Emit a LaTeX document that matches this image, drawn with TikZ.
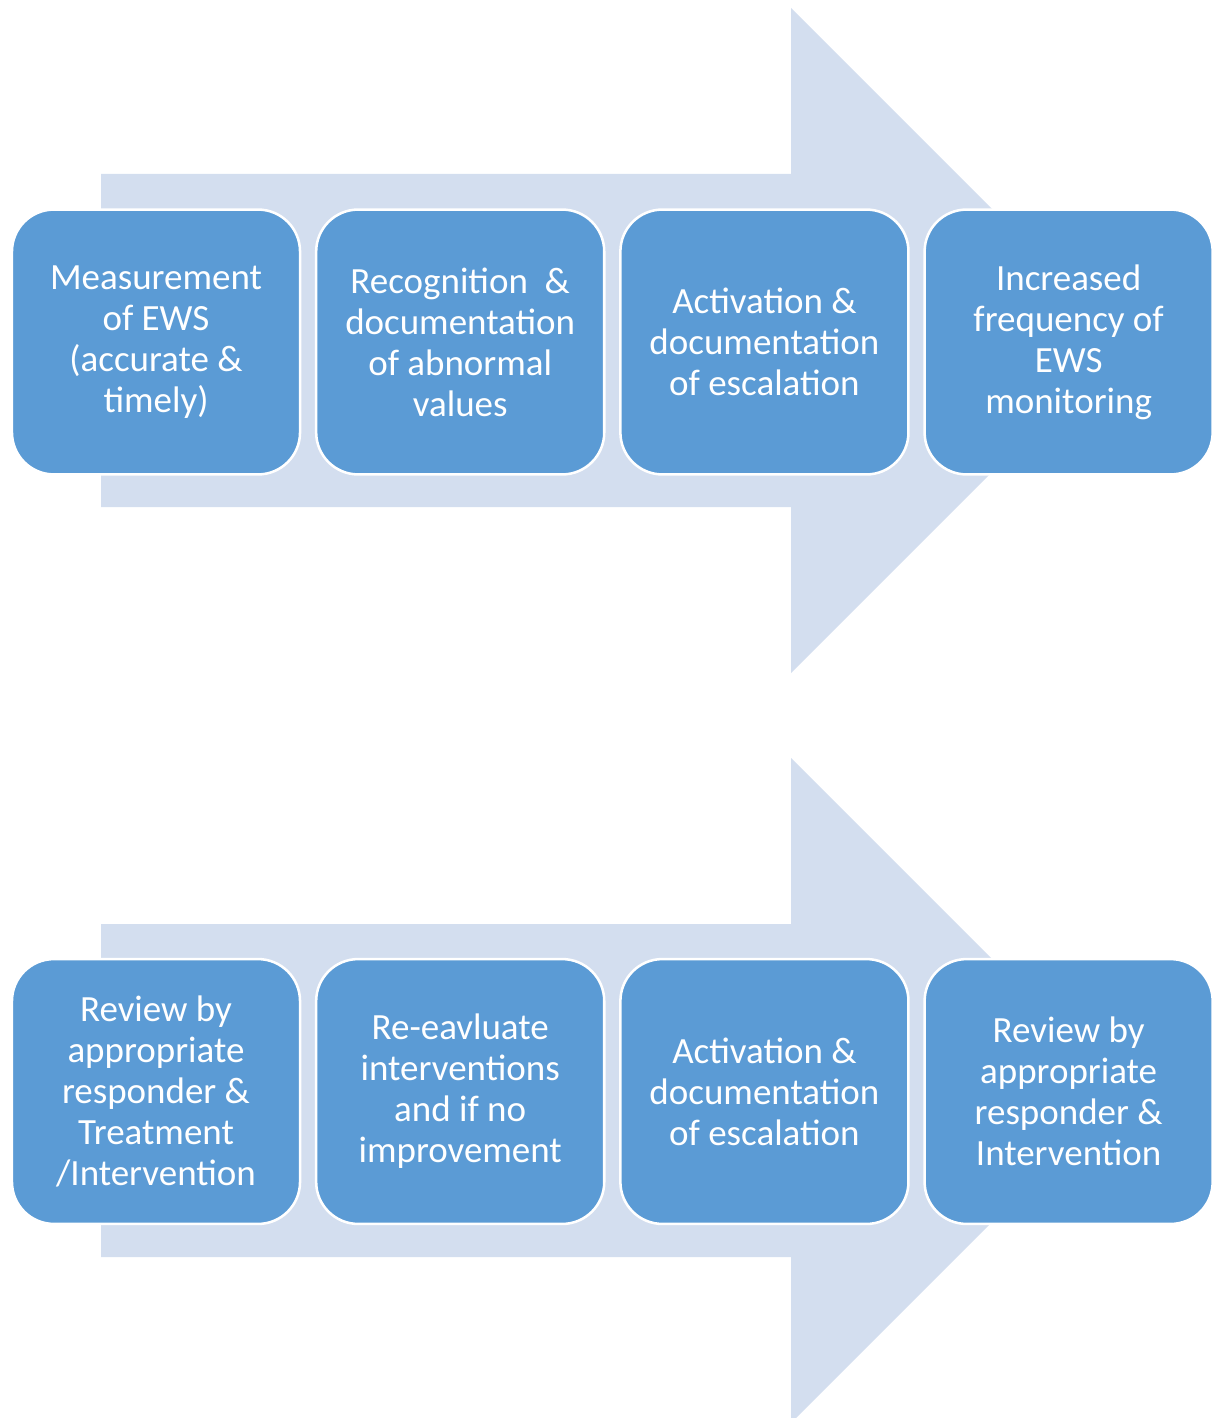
\documentclass[tikz,border=0pt]{standalone}
\usepackage{fontspec}
\setmainfont{Carlito}
\usetikzlibrary{positioning}

\begin{document}
\begin{tikzpicture}[
    x=0.025cm,
    y=-0.025cm,
    line join=round,
    every node/.style={font=\fontsize{26.3}{29.2}\selectfont},
]
\definecolor{ewsArrow}{HTML}{D3DEEF}
\definecolor{ewsBox}{HTML}{5B9BD5}

\tikzset{
    bigarrow/.style={fill=ewsArrow,draw=none},
    stepbox/.style={rectangle,rounded corners=1.05cm,fill=ewsBox,draw=white,line width=1.8pt,
        minimum width=7.2cm,minimum height=6.62cm,inner sep=0pt,align=center,text=white},
}

% block arrow behind a row of steps, #1 = vertical shift
\newcommand{\flowarrow}[1]{
    \fill[bigarrow] (101,{#1+174}) -- (791,{#1+174}) -- (791,{#1+8})
        -- (1123.5,{#1+340.5}) -- (791,{#1+673}) -- (791,{#1+507})
        -- (101,{#1+507}) -- cycle;
}

\useasboundingbox (0,0) rectangle (1221,1418);
\begin{scope}
\clip (0,0) rectangle (1221,1418);
\flowarrow{0}
\flowarrow{750}
\end{scope}

% first row
\node[stepbox] (measure) at (156,342) {Measurement\\of EWS\\(accurate \&\\timely)};
\node[stepbox,right=0.34cm of measure] (recognise) {Recognition \ \&\\documentation\\of abnormal\\values};
\node[stepbox,right=0.34cm of recognise] (activate) {Activation \&\\documentation\\of escalation};
\node[stepbox,right=0.34cm of activate] (frequency) {Increased\\frequency of\\EWS\\monitoring};

% second row
\node[stepbox] (review) at (156,1091.5) {Review by\\appropriate\\responder \&\\Treatment\\/Intervention};
\node[stepbox,right=0.34cm of review] (reevaluate) {Re-eavluate\\interventions\\and if no\\improvement};
\node[stepbox,right=0.34cm of reevaluate] (reactivate) {Activation \&\\documentation\\of escalation};
\node[stepbox,right=0.34cm of reactivate] (respond) {Review by\\appropriate\\responder \&\\Intervention};
\end{tikzpicture}
\end{document}
